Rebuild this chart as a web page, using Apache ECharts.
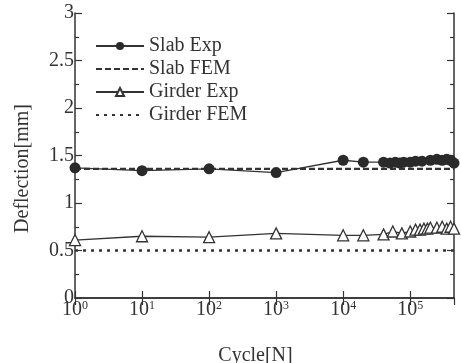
<!DOCTYPE html>
<html>
<head>
<meta charset="utf-8">
<script src="https://cdn.jsdelivr.net/npm/echarts@6/dist/echarts.min.js"></script>
<style>
  html, body { margin: 0; padding: 0; background: #fff; }
  #chart { width: 461px; height: 363px; }
</style>
</head>
<body>
<div id="chart"></div>
<script>
// 数据：循环次数与挠度
const slabCycles = [1, 10, 100, 1000, 1e4, 2e4, 4e4, 5e4, 6e4, 7e4, 8e4, 1e5, 1.2e5, 1.5e5, 2e5, 2.5e5, 3e5, 3.5e5, 4e5, 4.5e5];
const slabExp = [1.37, 1.34, 1.36, 1.32, 1.45, 1.43, 1.43, 1.42, 1.43, 1.42, 1.43, 1.43, 1.44, 1.44, 1.45, 1.46, 1.45, 1.46, 1.45, 1.42];
const girderCycles = [1, 10, 100, 1000, 1e4, 2e4, 4e4, 5.5e4, 7.5e4, 1e5, 1.2e5, 1.4e5, 1.6e5, 1.8e5, 2e5, 2.5e5, 3e5, 3.5e5, 4e5, 4.5e5];
const girderExp = [0.61, 0.65, 0.64, 0.68, 0.66, 0.66, 0.67, 0.70, 0.68, 0.70, 0.72, 0.72, 0.73, 0.73, 0.74, 0.74, 0.75, 0.73, 0.75, 0.73];
const femCycles = [1, 4.5e5];
const slabFem = [1.36, 1.36];
const girderFem = [0.5, 0.5];
const seriesNames = ['Slab Exp', 'Slab FEM', 'Girder Exp', 'Girder FEM'];

const pairs = (xs, ys) => xs.map((x, i) => [x, ys[i]]);

const ink = '#333';
const font = "'Liberation Serif', 'DejaVu Serif', serif";

const chart = echarts.init(document.getElementById('chart'), null, { renderer: 'canvas' });

const xBase = {
  type: 'log',
  logBase: 10,
  min: 1,
  max: 4.5e5,
  gridIndex: 0,
  splitLine: { show: false },
  axisLine: { lineStyle: { color: ink, width: 1.5 } },
  axisTick: { inside: true, length: 7, lineStyle: { color: ink, width: 1.2 } },
  minorTick: { show: false }
};
const yBase = {
  type: 'value',
  min: 0,
  max: 3,
  interval: 0.5,
  gridIndex: 0,
  splitLine: { show: false },
  axisLine: { show: true, lineStyle: { color: ink, width: 1.5 } },
  axisTick: { inside: true, length: 7, lineStyle: { color: ink, width: 1.2 } },
  minorTick: { show: true, splitNumber: 2, length: 4, lineStyle: { color: ink, width: 1.2 } }
};

// FEM 图例只显示线，不显示符号
const legendData = seriesNames.map(n => n.indexOf('FEM') >= 0 ? { name: n, itemStyle: { opacity: 0 } } : { name: n });

const option = {
  backgroundColor: '#fff',
  animation: false,
  grid: { left: 75, right: 7, top: 13, bottom: 65, outerBoundsMode: 'none' },
  legend: {
    orient: 'vertical',
    left: 90,
    top: 31,
    itemWidth: 48,
    itemHeight: 10,
    itemGap: 3,
    data: legendData,
    textStyle: { fontFamily: font, fontSize: 20, color: ink }
  },
  xAxis: [
    Object.assign({}, xBase, {
      position: 'bottom',
      name: 'Cycle[N]',
      nameLocation: 'middle',
      nameGap: 48,
      nameTextStyle: { fontFamily: font, fontSize: 20, color: ink, padding: [0, 18, 0, 0] },
      axisLabel: {
        margin: 2,
        showMaxLabel: false,
        formatter: v => '10{sup|' + Math.round(Math.log10(v)) + '}',
        fontFamily: font,
        fontSize: 20,
        color: ink,
        rich: { sup: { fontFamily: font, fontSize: 12, color: ink, verticalAlign: 'top', padding: [0, 0, 8, 0] } }
      }
    }),
    Object.assign({}, xBase, { position: 'top', axisLabel: { show: false } })
  ],
  yAxis: [
    Object.assign({}, yBase, {
      position: 'left',
      name: 'Deflection[mm]',
      nameLocation: 'middle',
      nameGap: 42,
      nameTextStyle: { fontFamily: font, fontSize: 20, color: ink, padding: [0, 26, 0, 0] },
      axisLabel: { margin: 1, fontFamily: font, fontSize: 20, color: ink }
    }),
    Object.assign({}, yBase, { position: 'right', axisLabel: { show: false } })
  ],
  series: [
    {
      name: 'Slab Exp',
      type: 'line',
      data: pairs(slabCycles, slabExp),
      symbol: 'circle',
      symbolSize: 11,
      itemStyle: { color: '#2a2a2a' },
      lineStyle: { color: '#333', width: 1.3 },
      z: 5
    },
    {
      name: 'Slab FEM',
      type: 'line',
      data: pairs(femCycles, slabFem),
      symbol: 'none',
      itemStyle: { color: '#333', opacity: 0 },
      lineStyle: { color: '#333', width: 2.2, type: [6, 3] }
    },
    {
      name: 'Girder Exp',
      type: 'line',
      data: pairs(girderCycles, girderExp),
      symbol: 'triangle',
      symbolSize: 11,
      itemStyle: { color: '#fff', borderColor: '#333', borderWidth: 1.3 },
      lineStyle: { color: '#333', width: 1.3 },
      z: 5
    },
    {
      name: 'Girder FEM',
      type: 'line',
      data: pairs(femCycles, girderFem),
      symbol: 'none',
      itemStyle: { color: '#333', opacity: 0 },
      lineStyle: { color: '#333', width: 2.4, type: [3, 5] }
    }
  ]
};

chart.setOption(option);
</script>
</body>
</html>
